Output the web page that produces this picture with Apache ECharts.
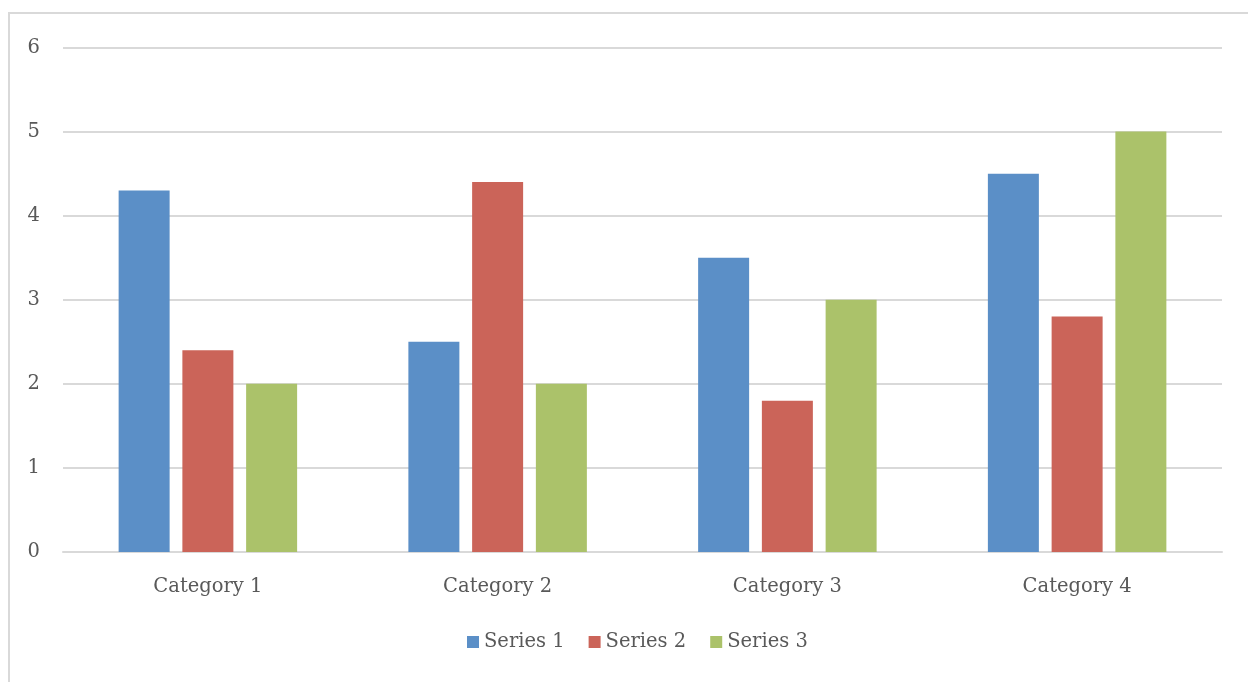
<!DOCTYPE html>
<html><head><meta charset="utf-8">
<script src="https://cdn.jsdelivr.net/npm/echarts@6/dist/echarts.min.js"></script>
<style>html,body{margin:0;padding:0;background:#fff}#c{width:1248px;height:682px}</style>
</head><body><div id="c"></div>
<script>
const categories = ['Category 1', 'Category 2', 'Category 3', 'Category 4'];
const series1 = [4.3, 2.5, 3.5, 4.5];
const series2 = [2.4, 4.4, 1.8, 2.8];
const series3 = [2, 2, 3, 5];
const seriesNames = ['Series 1', 'Series 2', 'Series 3'];
const colors = ['#5b8fc7', '#cb6459', '#abc26a'];
const FONT = 'DejaVu Serif';
const chart = echarts.init(document.getElementById('c'), null, {renderer: 'canvas'});
const mk = (name, data, color) => ({
  name, type: 'bar', data, barWidth: '17.6%', barGap: '25%',
  itemStyle: {color}, emphasis: {disabled: true}
});
chart.setOption({
  animation: false,
  graphic: [{type: 'rect', shape: {x: 9, y: 13, width: 1260, height: 700},
    style: {fill: 'none', stroke: '#d9d9d9', lineWidth: 2}, silent: true}],
  grid: {left: 63, right: 26, top: 47.5, bottom: 130},
  legend: {
    bottom: 25, left: 462, itemWidth: 12, itemHeight: 12, itemGap: 24,
    icon: 'rect', data: seriesNames,
    textStyle: {fontFamily: FONT, fontSize: 19.5, color: '#595959'}
  },
  xAxis: {
    type: 'category', data: categories,
    axisLine: {lineStyle: {color: '#d9d9d9', width: 2}},
    axisTick: {show: false},
    axisLabel: {fontFamily: FONT, fontSize: 19.5, color: '#595959', margin: 25}
  },
  yAxis: {
    type: 'value', min: 0, max: 6, interval: 1,
    axisLine: {show: false}, axisTick: {show: false},
    splitLine: {lineStyle: {color: '#d9d9d9', width: 2}},
    axisLabel: {fontFamily: FONT, fontSize: 19.5, color: '#595959', margin: 23}
  },
  series: [mk(seriesNames[0], series1, colors[0]), mk(seriesNames[1], series2, colors[1]), mk(seriesNames[2], series3, colors[2])]
});
</script></body></html>
